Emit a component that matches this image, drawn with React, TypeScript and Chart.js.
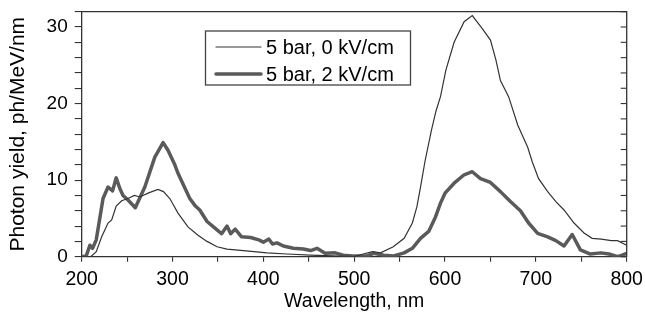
import React, { useEffect, useRef } from "react";
import { Chart, registerables } from "chart.js";

Chart.register(...registerables);

// ---- Data ----
const SERIES_0_LABEL = "5 bar, 0 kV/cm";
const SERIES_2_LABEL = "5 bar, 2 kV/cm";

const wl0 = [200, 210, 216, 222, 229, 233, 238, 244, 251, 258, 264, 273, 284, 290, 297, 306, 317, 328, 338, 349, 360, 378, 404, 426, 452, 477, 500, 510, 520, 529, 543, 555, 564, 569, 573, 578, 585, 590, 595, 601, 610, 621, 630, 641, 650, 656, 661, 670, 680, 691, 696, 703, 713, 722, 731, 742, 753, 762, 772, 783, 790, 800];
const yield0 = [0, 0, 0.65, 2.6, 4.4, 4.8, 6.6, 7.3, 7.6, 8.0, 7.8, 8.3, 8.8, 8.5, 7.6, 5.7, 3.9, 2.8, 2.0, 1.3, 1.0, 0.8, 0.5, 0.35, 0.2, 0.1, 0, 0.35, 0.65, 0.5, 1.3, 2.4, 4.4, 6.5, 9.1, 12.5, 16.5, 19.0, 20.9, 24.4, 28.0, 30.7, 31.5, 29.8, 28.3, 25.7, 23.0, 20.9, 17.2, 14.3, 12.4, 10.2, 8.5, 7.2, 6.1, 4.4, 3.1, 2.4, 2.3, 2.1, 2.1, 1.5];

const wl2 = [200, 205, 209, 212, 216, 223.5, 229, 234, 238, 242, 245.5, 251, 259, 269.5, 280.5, 289.6, 295, 302.5, 306, 319, 324.6, 330, 338, 347, 354, 360, 364, 369, 376, 386, 395, 400, 406, 410, 415, 422, 433, 444, 452, 459, 468, 479, 488, 498, 514, 521.5, 532.5, 543.5, 555, 564, 573, 582, 589.5, 595, 600, 610, 621, 630, 639, 650, 661, 672, 683, 692, 702, 713, 722, 731, 740, 749, 760, 771.5, 780.5, 790, 795, 800];
const yield2 = [0, 0.1, 1.5, 1.1, 2.2, 7.6, 9.1, 8.6, 10.3, 8.9, 8.0, 7.4, 6.4, 9.1, 13.0, 14.9, 13.9, 12.0, 10.9, 7.6, 6.7, 6.1, 4.6, 3.7, 3.0, 4.0, 3.0, 3.6, 2.6, 2.5, 2.2, 1.9, 2.3, 1.65, 1.8, 1.4, 1.1, 1.0, 0.8, 1.1, 0.45, 0.5, 0.2, 0.1, 0.1, 0.45, 0.2, 0.1, 0.5, 1.1, 2.4, 3.3, 5.2, 7.0, 8.3, 9.6, 10.7, 11.1, 10.2, 9.7, 8.5, 7.2, 6.0, 4.4, 3.05, 2.6, 2.1, 1.4, 2.9, 0.9, 0.35, 0.5, 0.35, 0, 0.2, 0.45];

const X_MIN = 200;
const X_MAX = 800;
const Y_MIN = 0;
const Y_MAX = 32;

const FONT = "'Liberation Sans', Arial, sans-serif";
const AXIS_COLOR = "#333";
const THIN_COLOR = "#333";
const THICK_COLOR = "#5a5a5a";

const framePlugin = {
  id: "frame",
  afterDraw(chart: any) {
    const { ctx, chartArea } = chart;
    const { left, right, top, bottom } = chartArea;
    const y = chart.scales.y;
    ctx.save();
    ctx.strokeStyle = AXIS_COLOR;
    ctx.lineWidth = 1.3;
    ctx.beginPath();
    ctx.moveTo(left, top);
    ctx.lineTo(right, top);
    ctx.lineTo(right, bottom);
    ctx.stroke();
    ctx.lineWidth = 1.1;
    y.ticks.forEach((t: any) => {
      const py = y.getPixelForValue(t.value);
      ctx.beginPath();
      ctx.moveTo(right - 6, py);
      ctx.lineTo(right, py);
      ctx.stroke();
    });
    ctx.restore();

    // legend box
    const bx = 205.5, by = 31, bw = 205, bh = 54;
    ctx.save();
    ctx.fillStyle = "#fff";
    ctx.fillRect(bx, by, bw, bh);
    ctx.strokeStyle = "#444";
    ctx.lineWidth = 1.3;
    ctx.strokeRect(bx, by, bw, bh);
    const items = chart.data.datasets;
    const rows = [47, 74];
    items.forEach((ds: any, i: number) => {
      ctx.strokeStyle = ds.borderColor;
      ctx.lineWidth = ds.borderWidth;
      ctx.lineCap = "round";
      ctx.beginPath();
      ctx.moveTo(216, rows[i]);
      ctx.lineTo(261, rows[i]);
      ctx.stroke();
      ctx.fillStyle = "#000";
      ctx.font = `20px ${FONT}`;
      ctx.textBaseline = "middle";
      ctx.textAlign = "left";
      ctx.fillText(ds.label, 266, rows[i] + 1);
    });
    ctx.restore();
  },
};

export default function App() {
  const ref = useRef<HTMLCanvasElement | null>(null);

  useEffect(() => {
    document.body.style.margin = "0";
    const canvas = ref.current;
    if (!canvas) return;
    Chart.defaults.font.family = FONT;
    const chart = new Chart(canvas, {
      type: "line",
      data: {
        datasets: [
          {
            label: SERIES_0_LABEL,
            data: wl0.map((x, i) => ({ x, y: yield0[i] })),
            borderColor: THIN_COLOR,
            borderWidth: 1.2,
            pointRadius: 0,
            pointHoverRadius: 0,
            tension: 0,
            fill: false,
          },
          {
            label: SERIES_2_LABEL,
            data: wl2.map((x, i) => ({ x, y: yield2[i] })),
            borderColor: THICK_COLOR,
            borderWidth: 3.5,
            pointRadius: 0,
            pointHoverRadius: 0,
            tension: 0,
            fill: false,
            borderJoinStyle: "round",
          },
        ],
      },
      options: {
        animation: false,
        responsive: false,
        devicePixelRatio: 1,
        layout: { autoPadding: false, padding: { top: 11.7, right: 18.3, left: 0, bottom: 0 } },
        plugins: {
          legend: { display: false },
          tooltip: { enabled: false },
        },
        scales: {
          x: {
            type: "linear",
            min: X_MIN,
            max: X_MAX,
            afterFit: (s: any) => {
              s.height = 65.3;
              s.paddingLeft = 0;
              s.paddingRight = 0;
            },
            ticks: {
              stepSize: 50,
              autoSkip: false,
              maxRotation: 0,
              padding: 6,
              color: "#000",
              font: { size: 19.5 },
              callback: (v: any) => (Number(v) % 100 === 0 ? String(v) : ""),
            },
            grid: {
              drawOnChartArea: false,
              drawTicks: true,
              tickLength: 5,
              color: AXIS_COLOR,
              lineWidth: 1.1,
            },
            border: { color: AXIS_COLOR, width: 1.3 },
            title: {
              display: true,
              text: "Wavelength, nm",
              color: "#000",
              font: { size: 19.5 },
              padding: { top: 0, bottom: 9 },
            },
          },
          y: {
            min: Y_MIN,
            max: Y_MAX,
            afterFit: (s: any) => {
              s.width = 81.7;
              s.paddingTop = 0;
              s.paddingBottom = 0;
            },
            ticks: {
              stepSize: 2,
              autoSkip: false,
              padding: 7,
              color: "#000",
              font: { size: 19 },
              callback: (v: any) => (Number(v) % 10 === 0 ? String(v) : ""),
            },
            grid: {
              drawOnChartArea: false,
              drawTicks: true,
              tickLength: 7,
              color: AXIS_COLOR,
              lineWidth: 1.1,
            },
            border: { color: AXIS_COLOR, width: 1.3 },
            title: {
              display: true,
              text: "Photon yield, ph/MeV/nm",
              color: "#000",
              font: { size: 21 },
              padding: { top: 6, bottom: 0 },
            },
          },
        },
      },
      plugins: [framePlugin],
    } as any);
    return () => chart.destroy();
  }, []);

  return (
    <div style={{ width: 645, height: 322 }}>
      <canvas ref={ref} width={645} height={322} style={{ display: "block" }} />
    </div>
  );
}
